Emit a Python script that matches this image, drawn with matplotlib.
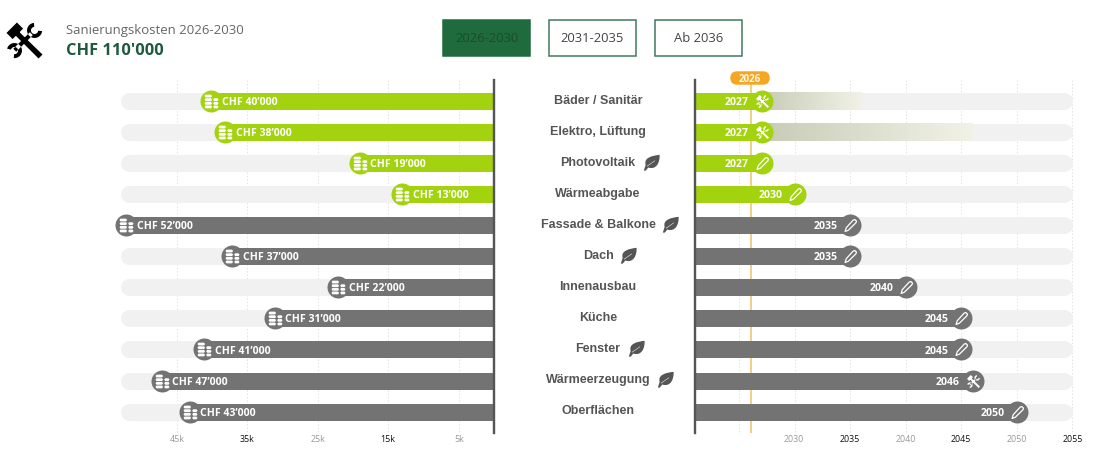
import numpy as np
from matplotlib import pyplot as plt
from matplotlib.path import Path
from matplotlib.patches import FancyBboxPatch, Rectangle
from matplotlib.colors import LinearSegmentedColormap

W, H = 1112, 460

categories = ['Bäder / Sanitär', 'Elektro, Lüftung', 'Photovoltaik', 'Wärmeabgabe',
              'Fassade & Balkone', 'Dach', 'Innenausbau', 'Küche', 'Fenster',
              'Wärmeerzeugung', 'Oberflächen']
costs_k = [40, 38, 19, 13, 52, 37, 22, 31, 41, 47, 43]
years = [2027, 2027, 2027, 2030, 2035, 2035, 2040, 2045, 2045, 2046, 2050]
action_icons = ['tools', 'tools', 'pencil', 'pencil', 'pencil', 'pencil', 'pencil',
                'pencil', 'pencil', 'tools', 'pencil']
has_leaf = [False, False, True, False, True, True, False, False, True, True, False]
fade_until = {0: 2036, 1: 2046}

cost_ticks = [45, 35, 25, 15, 5]
year_ticks = [2030, 2035, 2040, 2045, 2050, 2055]
periods = ['2026-2030', '2031-2035', 'Ab 2036']

GREEN = '#a3d20f'
GREY = '#737373'
TRACK = '#f1f1f1'
DARK_GREEN = '#1f6b3d'
AXIS = '#555555'
ORANGE = '#f5a623'
FONT = 'Open Sans'
LABEL_FONT = 'Liberation Sans'
PX_PER_K = 7.07
PX_PER_YEAR = 11.1
TOP, BOTTOM = 81, 434
Y_MIN, Y_MAX = -0.676, 10.69
START_YEAR = 2021.0


def poly(points):
    codes = [Path.MOVETO] + [Path.LINETO] * (len(points) - 1) + [Path.CLOSEPOLY]
    return Path(list(points) + [points[0]], codes)


def jaw(cx, cy, opening):
    # open-ended wrench head: annular arc with a gap facing the given angle
    angles = np.radians(np.linspace(opening + 50, opening + 310, 24))
    outer = [(cx + 0.42 * np.cos(a), cy + 0.42 * np.sin(a)) for a in angles]
    inner = [(cx + 0.2 * np.cos(a), cy + 0.2 * np.sin(a)) for a in angles[::-1]]
    return poly(outer + inner)


def tools_path():
    # hammer running to the lower right, wrench crossing it to the lower left
    handle = poly([(-0.62, 0.4), (-0.42, 0.6), (1.0, -0.78), (0.78, -1.0)])
    head = poly([(-1.0, 0.42), (-0.42, 1.0), (-0.08, 0.66), (-0.66, 0.08)])
    shaft = poly([(0.3, 0.46), (0.46, 0.3), (-0.46, -0.62), (-0.62, -0.46)])
    top_jaw = jaw(0.56, 0.56, 45)
    low_jaw = jaw(-0.56, -0.56, 215)
    return Path.make_compound_path(handle, head, shaft, top_jaw, low_jaw)


def coins_path():
    # a stack of three coins beside a slightly shorter stack of three
    parts = []
    for x0, x1, rows in [(-1.0, 0.08, (0.78, 0.26, -0.26, -0.78)), (0.24, 1.0, (0.26, -0.26, -0.78))]:
        for yc in rows:
            h = 0.2
            parts.append(poly([(x0 + 0.14, yc + h), (x1 - 0.14, yc + h), (x1, yc),
                               (x1 - 0.14, yc - h), (x0 + 0.14, yc - h), (x0, yc)]))
    return Path.make_compound_path(*parts)


def pencil_path():
    # outline of a slanted pencil, stroked and not filled
    return Path([(-0.9, -1.0), (-0.72, -0.38), (0.45, 0.9), (0.72, 1.0), (1.0, 0.72),
                 (0.9, 0.45), (-0.35, -0.78), (-0.9, -1.0)],
                [Path.MOVETO] + [Path.LINETO] * 6 + [Path.CLOSEPOLY])


def leaf_path():
    # full leaf with a stem at the lower left; the vein is wound the other way to leave a gap
    body = Path([(-0.72, -0.3), (-1.0, 0.6), (0.1, 0.85), (1.0, 0.95),
                 (1.05, 0.0), (0.6, -0.95), (-0.4, -0.62),
                 (-0.7, -1.0), (-0.95, -1.0), (-0.72, -0.3)],
                [Path.MOVETO, Path.CURVE4, Path.CURVE4, Path.CURVE4,
                 Path.CURVE4, Path.CURVE4, Path.CURVE4,
                 Path.LINETO, Path.LINETO, Path.CLOSEPOLY])
    vein = poly([(-0.55, -0.5), (0.45, 0.2), (0.42, 0.25), (-0.58, -0.44)])
    return Path.make_compound_path(body, vein)


ICONS = {'tools': tools_path(), 'pencil': pencil_path()}
COINS = coins_path()
LEAF = leaf_path()


def px_axes(fig, x0, y0, x1, y1):
    return fig.add_axes([x0 / W, 1 - y1 / H, (x1 - x0) / W, (y1 - y0) / H])


def px(v):
    # pixels to points at dpi 100
    return v * 0.72


def style_chart(ax, grid, xlim):
    ax.set_xlim(*xlim)
    ax.set_ylim(Y_MAX, Y_MIN)
    ax.patch.set_alpha(0)
    for side in ax.spines.values():
        side.set_visible(False)
    ax.set_yticks([])
    ax.set_xticks([])
    ax.vlines(grid, Y_MIN, Y_MAX, color='#e2e2e2', lw=0.7, ls=(0, (1.5, 2)), zorder=1)


def draw_icon(ax, x, y, name, size):
    if name == 'pencil':
        ax.plot(x, y, marker=ICONS[name], ms=px(size - 1), mfc='none', mec='white', mew=0.9,
                zorder=7, clip_on=False)
    else:
        ax.plot(x, y, marker=ICONS[name], ms=px(size), mfc='white', mew=0, zorder=7, clip_on=False)


def draw_tick_labels(fig, xs, labels):
    for i, (x, label) in enumerate(zip(xs, labels)):
        fig.text(x / W, 1 - 440 / H, label, ha='center', va='center', fontsize=6.4,
                 family=FONT, color='#999999' if i % 2 == 0 else '#111111')


def main():
    fig = plt.figure(figsize=(W / 100, H / 100), dpi=100)
    rows = np.arange(len(categories))

    # left chart: renovation cost per element, growing leftwards from zero
    left = px_axes(fig, 115, TOP, 494, BOTTOM)
    style_chart(left, [k * 7.05 / PX_PER_K for k in cost_ticks], (379 / PX_PER_K, 0))
    for i in rows:
        color = GREEN if years[i] <= 2030 else GREY
        left.plot([365 / PX_PER_K, 0], [i, i], color=TRACK, lw=px(17), solid_capstyle='round', zorder=2)
        left.plot([costs_k[i], 0], [i, i], color=color, lw=px(17), solid_capstyle='butt', zorder=3)
        left.plot(costs_k[i], i, 'o', ms=px(22), color=color, mew=0, zorder=4, clip_on=False)
        left.plot(costs_k[i], i, marker=COINS, ms=px(14), mfc='white', mew=0, zorder=5)
        left.annotate(f"CHF {costs_k[i]}’000", (costs_k[i], i), xytext=(px(10.5), -0.4),
                      textcoords='offset points', ha='left', va='center', color='white',
                      fontsize=7.6, fontweight='bold', family=FONT, zorder=6)
    left.plot([0, 0], [Y_MIN, Y_MAX], color=AXIS, lw=px(2.4), clip_on=False, zorder=8)

    # right chart: year each element is due
    right = px_axes(fig, 695, TOP, 1078, BOTTOM)
    xlim = (START_YEAR, START_YEAR + 383 / PX_PER_YEAR)
    style_chart(right, [2025] + year_ticks, xlim)
    fade = LinearSegmentedColormap.from_list('fade', ['#c8ccb6', '#f1f2e6'])
    right.vlines(2026, Y_MIN, Y_MAX, color='#efc46f', lw=px(1.6), zorder=2.5)
    for i in rows:
        color = GREEN if years[i] <= 2030 else GREY
        right.plot([START_YEAR, 2054.2], [i, i], color=TRACK, lw=px(17), solid_capstyle='round', zorder=2)
        if i in fade_until:
            right.imshow(np.linspace(0, 1, 64).reshape(1, -1), cmap=fade, aspect='auto',
                         extent=(years[i], fade_until[i], i + 0.274, i - 0.274), zorder=2.2)
        right.plot([START_YEAR, years[i]], [i, i], color=color, lw=px(17), solid_capstyle='butt', zorder=3)
        right.plot(years[i], i, 'o', ms=px(22), color=color, mew=0, zorder=4, clip_on=False)
        draw_icon(right, years[i], i, action_icons[i], 13)
        right.annotate(str(years[i]), (years[i], i), xytext=(px(-12.5), -0.4),
                       textcoords='offset points', ha='right', va='center', color='white',
                       fontsize=7.6, fontweight='bold', family=FONT, zorder=6)
    right.set_xlim(*xlim)
    right.set_ylim(Y_MAX, Y_MIN)
    right.plot([START_YEAR, START_YEAR], [Y_MIN, Y_MAX], color=AXIS, lw=px(2.4), clip_on=False, zorder=8)

    draw_tick_labels(fig, [177, 247.5, 318, 388, 459], [f'{k}k' for k in cost_ticks])
    draw_tick_labels(fig, [794, 850, 905.5, 961, 1017, 1072.5], [str(y) for y in year_ticks])

    # page furniture is placed in pixel coordinates on a full-size overlay
    page = fig.add_axes([0, 0, 1, 1], zorder=10)
    page.set_xlim(0, W)
    page.set_ylim(H, 0)
    page.axis('off')
    page.patch.set_alpha(0)

    page.plot(24, 41, marker=ICONS['tools'], ms=px(36), mfc='black', mew=0)
    page.text(66, 30.5, 'Sanierungskosten 2026-2030', fontsize=9.45, color='#666666',
              family=FONT, va='center')
    page.text(66, 51, "CHF 110'000", fontsize=11.8, fontweight='bold', color='#1f5a3f',
              family=FONT, va='center')

    for j, label in enumerate(periods):
        x0 = 442.5 + [0, 106, 212][j]
        active = j == 0
        page.add_patch(Rectangle((x0, 20.5), 87.5, 36, fc=DARK_GREEN if active else 'white',
                                 ec=DARK_GREEN if active else '#3f7a5f', lw=1.1))
        page.text(x0 + 44, 39, label, ha='center', va='center', fontsize=9.4, family=FONT,
                  color='#1d4a2e' if active else '#444444')

    page.add_patch(FancyBboxPatch((731, 73), 38, 12, boxstyle='round,pad=0,rounding_size=6',
                                  mutation_aspect=1, fc=ORANGE, ec=ORANGE, lw=1.0))
    page.text(749.5, 79.5, '2026', ha='center', va='center', fontsize=7, fontweight='bold',
              color='#fff6e6', family=FONT)

    # category names sit between the charts, with a leaf for the energy-related ones
    for i, name in enumerate(categories):
        y = 101.3 + 30.95 * i
        label = page.text(598, y, name, ha='center', va='center', fontsize=9.0, fontweight='bold',
                          family=LABEL_FONT, color='#555555')
        if has_leaf[i]:
            right_edge = label.get_window_extent(fig.canvas.get_renderer()).x1
            page.plot(right_edge + 15, y, marker=LEAF, ms=px(17), mfc='#555555', mew=0)

    fig.savefig('out.png', dpi=100)


if __name__ == '__main__':
    main()
